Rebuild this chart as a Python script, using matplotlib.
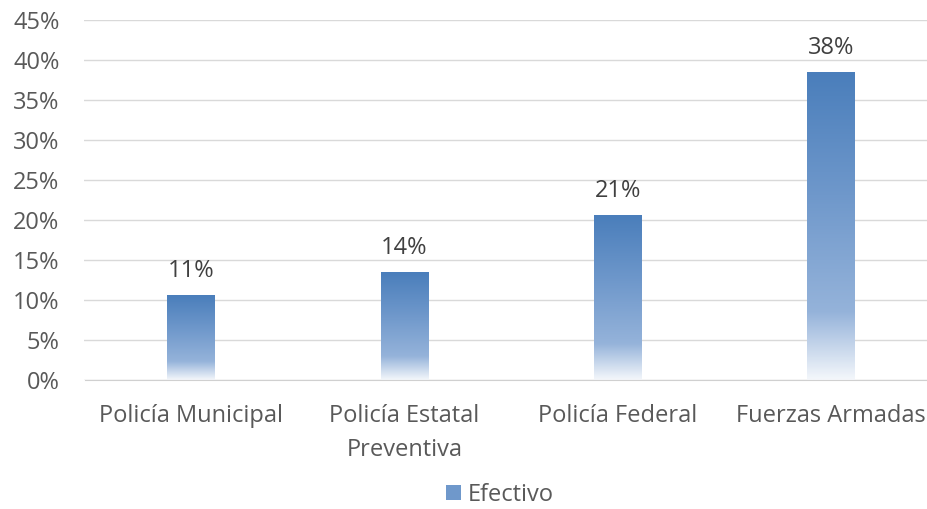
import matplotlib
matplotlib.use("Agg")
import matplotlib.pyplot as plt
import numpy as np
from matplotlib.colors import LinearSegmentedColormap
from matplotlib.patches import Rectangle

categories = ["Policía Municipal", "Policía Estatal\nPreventiva", "Policía Federal", "Fuerzas Armadas"]
values = [0.106, 0.135, 0.206, 0.385]
labels = ["11%", "14%", "21%", "38%"]
series_name = "Efectivo"

plt.rcParams['font.family'] = ['Open Sans', 'DejaVu Sans']
txt = "#595959"
fs = 17

fig = plt.figure(figsize=(9.28, 5.09), dpi=100)
ax = fig.add_axes([84.5/928, 1-380/509, 853/928, 360/509])

cmap = LinearSegmentedColormap.from_list("g", [(0, "#f4f7fb"), (0.22, "#95b3da"), (0.6, "#6f98cb"), (1, "#4a7ebb")])
grad = np.linspace(0, 1, 256).reshape(-1, 1)

x = np.arange(len(categories))
w = 0.223
bars = ax.bar(x, values, width=w, color="none", zorder=2)
for b, v, lab in zip(bars, values, labels):
    x0 = b.get_x()
    ax.imshow(grad, cmap=cmap, origin="lower", aspect="auto",
              extent=[x0, x0 + w, 0, v], zorder=2)
    ax.annotate(lab, (b.get_x() + w/2, v), xytext=(0, 13), textcoords="offset points",
                ha="center", va="baseline", fontsize=fs, color="#404040")

ax.set_xlim(-0.5, 3.5)
ax.set_ylim(0, 0.45)
ticks = np.arange(0, 0.451, 0.05)
ax.set_yticks(ticks)
ax.set_yticklabels([f"{int(round(t*100))}%" for t in ticks])
ax.set_xticks(x)
ax.set_xticklabels(categories)
ax.tick_params(axis="both", length=0, labelsize=fs, colors=txt)
ax.tick_params(axis="x", pad=17)
ax.tick_params(axis="y", pad=18)
for lbl in ax.get_xticklabels():
    lbl.set_linespacing(1.55)
ax.grid(axis="y", color="#d9d9d9", lw=1, zorder=0)
ax.set_axisbelow(True)
for s in ["top", "right", "left"]:
    ax.spines[s].set_visible(False)
ax.spines["bottom"].set_color("#d0d0d0")

handle = Rectangle((0, 0), 1, 1, facecolor="#6f98cb")
fig.legend([handle], [series_name], loc="center", bbox_to_anchor=(500/928, 1-495/509),
           frameon=False, fontsize=fs, labelcolor=txt, handlelength=0.6, handleheight=0.6,
           handletextpad=0.3, borderpad=0)

fig.savefig("out.png", dpi=100)
